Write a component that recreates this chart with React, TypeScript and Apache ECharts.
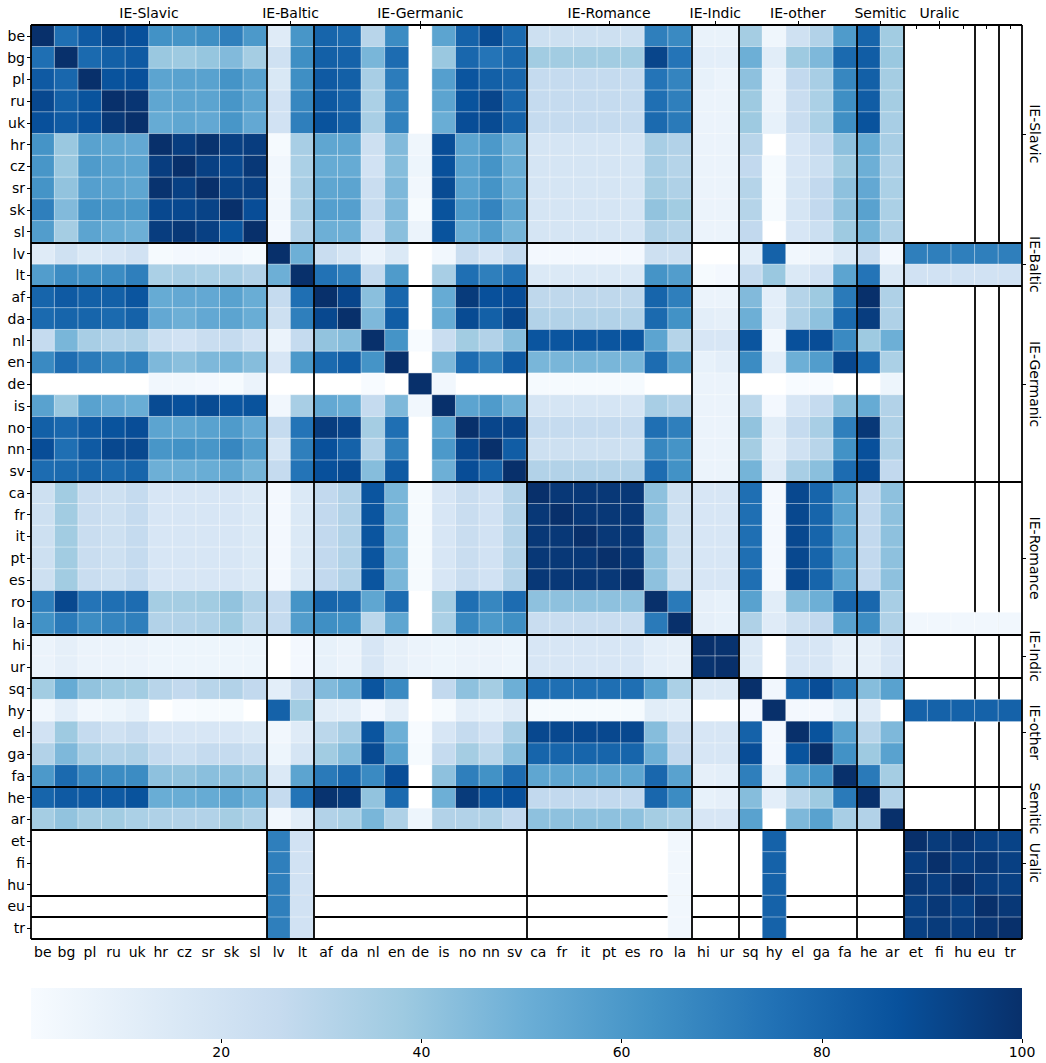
import React, { useEffect, useRef } from 'react';
import * as echarts from 'echarts';

const _ = null;

const languages = ['be','bg','pl','ru','uk','hr','cz','sr','sk','sl','lv','lt','af','da','nl','en','de','is','no','nn','sv','ca','fr','it','pt','es','ro','la','hi','ur','sq','hy','el','ga','fa','he','ar','et','fi','hu','eu','tr'];

// group names ('' = unlabeled single-language group) and their sizes
const groupNames = ['IE-Slavic','IE-Baltic','IE-Germanic','IE-Romance','IE-Indic','IE-other','Semitic','Uralic','',''];
const groupSizes = [10,2,9,7,2,5,2,3,1,1];
// boundaries drawn beneath the cells (after Uralic, after eu)
const hiddenBoundaryGroups = [7, 8];

// rows (one per language), columns in the same order as `languages`
const row_be = [100,76,84,91,88,63,62,64,70,60, 13,61, 80,78,30,65,_,55,81,90,78, 22,22,22,22,22,70,66, 8,8, 36,5,21,32,59, 80,37, _,_,_,_,_];
const row_bg = [76,100,78,82,84,39,38,40,45,36, 21,64, 82,81,47,77,_,39,79,74,78, 37,37,37,37,37,92,74, 11,11, 50,12,38,46,78, 83,39, _,_,_,_,_];
const row_pl = [84,79,100,87,88,55,56,56,62,56, 16,64, 84,82,35,71,_,57,86,82,79, 26,26,26,26,26,74,68, 9,7, 42,7,27,35,67, 82,36, _,_,_,_,_];
const row_ru = [91,82,87,100,98,54,55,55,61,55, 20,67, 85,81,34,68,_,55,87,92,79, 26,26,26,26,26,76,70, 7,7, 38,7,24,34,64, 83,36, _,_,_,_,_];
const row_uk = [88,84,88,97,100,52,54,53,61,53, 20,70, 87,82,35,69,_,51,89,90,81, 26,26,26,26,26,78,72, 7,7, 38,9,24,34,64, 87,35, _,_,_,_,_];
const row_hr = [62,39,56,54,53,100,95,99,94,95, 2,35, 54,54,22,45,5,89,55,60,50, 18,18,18,18,18,35,32, 7,7, 30,_,17,26,42, 52,35, _,_,_,_,_];
const row_cz = [61,39,59,56,55,95,100,94,91,97, 4,34, 52,52,20,44,6,88,56,62,51, 18,18,18,18,18,35,31, 7,7, 27,2,17,23,38, 50,33, _,_,_,_,_];
const row_sr = [62,41,57,56,54,99,94,100,93,94, 4,35, 54,55,24,46,4,90,56,62,52, 18,18,18,18,18,36,33, 7,7, 31,2,18,27,42, 53,34, _,_,_,_,_];
const row_sk = [70,45,63,61,61,91,91,93,100,89, 4,35, 57,57,26,46,2,87,60,68,55, 18,18,18,18,18,41,37, 7,7, 31,2,18,27,42, 56,34, _,_,_,_,_];
const row_sl = [58,36,55,52,50,95,97,94,87,100, 3,32, 50,50,20,43,7,87,51,58,48, 18,18,18,18,18,33,31, 7,7, 27,_,17,23,38, 48,33, _,_,_,_,_];
const row_lv = [13,21,15,17,20,2,3,3,4,2, 100,50, 24,18,7,15,_,4,24,17,26, 3,3,3,3,3,22,22, _,_, 11,81,4,7,15, 24,3, 70,70,70,70,70];
const row_lt = [58,65,64,65,70,34,35,34,35,32, 50,100, 75,70,26,59,_,35,76,70,75, 15,15,15,15,15,62,58, 2,3, 26,39,15,20,55, 74,15, 20,20,20,20,20];
const row_af = [80,84,82,82,86,52,53,53,56,51, 26,76, 100,92,43,79,_,52,96,88,89, 28,28,28,28,28,80,70, 7,7, 45,11,31,38,72, 100,33, _,_,_,_,_];
const row_da = [78,80,80,78,81,53,50,53,55,51, 22,70, 91,100,46,83,_,52,90,82,91, 32,32,32,32,32,78,63, 11,10, 50,12,33,42,78, 95,33, _,_,_,_,_];
const row_nl = [26,47,35,32,33,23,20,24,26,20, 7,26, 41,44,100,62,1,24,37,32,44, 86,86,86,86,86,55,31, 17,17, 86,4,88,89,66, 38,50, _,_,_,_,_];
const row_en = [66,77,72,67,69,46,43,46,48,44, 17,60, 78,83,62,100,_,46,77,69,84, 47,47,47,47,47,77,56, 9,11, 65,11,50,58,91, 78,34, _,_,_,_,_];
const row_de = [_,_,_,_,_,4,4,3,2,7, _,_, _,_,1,_,100,4,_,_,_, 2,2,2,2,2,_,_, 7,7, _,_,1,1,_, _,6, _,_,_,_,_];
const row_is = [56,39,56,53,51,90,88,90,86,87, 4,35, 53,51,26,46,4,100,55,59,50, 18,18,18,18,18,35,32, 7,7, 29,3,17,26,43, 52,32, _,_,_,_,_];
const row_no = [82,79,84,87,89,55,54,56,59,53, 26,74, 95,92,36,76,_,55,100,92,92, 26,26,26,26,26,76,70, 7,7, 41,12,26,35,70, 97,33, _,_,_,_,_];
const row_nn = [89,76,84,91,91,61,63,61,67,59, 18,70, 88,81,32,70,_,60,91,100,83, 22,22,22,22,22,67,62, 7,7, 36,10,21,30,63, 88,33, _,_,_,_,_];
const row_sv = [77,78,80,78,80,50,50,51,54,48, 26,74, 88,90,44,84,_,50,89,81,100, 32,32,32,32,32,77,63, 7,7, 48,13,35,43,77, 90,27, _,_,_,_,_];
const row_ca = [22,37,24,22,26,17,17,17,17,15, 3,15, 27,32,86,47,2,17,24,20,32, 100,97,97,97,97,42,22, 17,17, 76,3,91,80,55, 27,42, _,_,_,_,_];
const row_fr = [22,37,24,22,26,17,17,17,17,15, 3,15, 27,32,86,47,2,17,24,20,32, 97,100,97,97,97,42,22, 17,17, 76,3,91,80,55, 27,42, _,_,_,_,_];
const row_it = [22,37,24,22,26,17,17,17,17,15, 3,15, 27,32,86,47,2,17,24,20,32, 97,97,100,97,97,42,22, 17,17, 76,3,91,80,55, 27,42, _,_,_,_,_];
const row_pt = [22,37,24,22,26,17,17,17,17,15, 3,15, 27,32,86,47,2,17,24,20,32, 97,97,97,100,97,42,22, 17,17, 76,3,91,80,55, 27,42, _,_,_,_,_];
const row_es = [22,37,24,22,26,17,17,17,17,15, 3,15, 27,32,86,47,2,17,24,20,32, 97,97,97,97,100,42,22, 17,17, 76,3,91,80,55, 27,42, _,_,_,_,_];
const row_ro = [70,91,74,76,77,36,36,37,41,33, 26,62, 80,78,54,77,_,36,76,67,77, 42,42,42,42,42,100,72, 10,9, 56,12,44,50,79, 79,35, _,_,_,_,_];
const row_la = [63,72,65,68,70,32,32,33,38,29, 26,58, 64,63,29,54,_,34,67,60,64, 24,24,24,24,24,72,100, 10,9, 33,13,22,27,56, 65,33, 4,4,4,4,4];
const row_hi = [7,10,7,7,7,6,6,6,6,6, _,3, 9,7,17,10,7,6,7,7,6, 17,17,17,17,17,11,10, 100,99, 15,_,17,17,10, 10,17, _,_,_,_,_];
const row_ur = [7,10,7,7,7,6,6,6,6,6, _,3, 9,7,17,10,7,6,7,7,6, 17,17,17,17,17,11,10, 99,100, 15,_,17,17,10, 10,17, _,_,_,_,_];
const row_sq = [37,52,41,38,37,30,27,30,32,27, 11,26, 45,50,86,66,_,27,42,36,50, 76,76,76,76,76,56,34, 15,15, 100,4,81,89,72, 44,56, _,_,_,_,_];
const row_hy = [4,11,4,6,9,_,1,2,2,_, 81,37, 12,11,3,10,_,2,11,9,13, 2,2,2,2,2,12,11, _,_, 3,100,3,3,9, 13,_, 81,81,81,81,81];
const row_el = [20,38,26,21,24,17,17,17,17,15, 4,13, 29,35,86,50,1,17,26,20,35, 91,91,91,91,91,44,24, 17,17, 81,3,100,87,56, 30,46, _,_,_,_,_];
const row_ga = [32,46,35,32,33,26,23,26,26,23, 6,18, 37,44,90,56,2,26,36,29,43, 80,80,80,80,80,50,27, 17,17, 89,3,87,100,63, 38,56, _,_,_,_,_];
const row_fa = [60,78,67,65,65,42,41,43,43,41, 15,55, 72,78,66,89,_,42,70,63,77, 54,54,54,54,54,79,56, 10,11, 70,9,56,63,100, 72,36, _,_,_,_,_];
const row_he = [80,84,84,84,87,51,51,52,55,50, 26,74, 99,96,41,78,_,50,96,86,88, 27,27,27,27,27,79,65, 9,10, 44,11,29,38,72, 100,32, _,_,_,_,_];
const row_ar = [36,41,36,37,34,33,32,32,36,33, 4,12, 32,34,47,33,6,32,32,33,27, 42,42,42,42,42,36,34, 17,17, 56,_,46,56,35, 32,100, _,_,_,_,_];
const row_et = [_,_,_,_,_,_,_,_,_,_, 70,20, _,_,_,_,_,_,_,_,_, _,_,_,_,_,_,4, _,_, _,81,_,_,_, _,_, 100,96,98,94,93];
const row_fi = [_,_,_,_,_,_,_,_,_,_, 70,20, _,_,_,_,_,_,_,_,_, _,_,_,_,_,_,4, _,_, _,81,_,_,_, _,_, 95,100,95,97,94];
const row_hu = [_,_,_,_,_,_,_,_,_,_, 70,20, _,_,_,_,_,_,_,_,_, _,_,_,_,_,_,4, _,_, _,81,_,_,_, _,_, 97,95,100,95,94];
const row_eu = [_,_,_,_,_,_,_,_,_,_, 70,20, _,_,_,_,_,_,_,_,_, _,_,_,_,_,_,4, _,_, _,81,_,_,_, _,_, 94,97,94,100,97];
const row_tr = [_,_,_,_,_,_,_,_,_,_, 70,20, _,_,_,_,_,_,_,_,_, _,_,_,_,_,_,4, _,_, _,81,_,_,_, _,_, 94,96,95,98,100];

const rows = [row_be,row_bg,row_pl,row_ru,row_uk,row_hr,row_cz,row_sr,row_sk,row_sl,row_lv,row_lt,row_af,row_da,row_nl,row_en,row_de,row_is,row_no,row_nn,row_sv,row_ca,row_fr,row_it,row_pt,row_es,row_ro,row_la,row_hi,row_ur,row_sq,row_hy,row_el,row_ga,row_fa,row_he,row_ar,row_et,row_fi,row_hu,row_eu,row_tr];

const colorTicks = [20, 40, 60, 80, 100];
const blues = ['#f7fbff','#deebf7','#c6dbef','#9ecae1','#6baed6','#4292c6','#2171b5','#08519c','#08306b'];

const FONT = 'DejaVu Sans';

export default function App() {
  const ref = useRef<HTMLDivElement>(null);
  useEffect(() => {
    if (!ref.current) return;
    const chart = echarts.init(ref.current, null, { renderer: 'svg' });
    const n = languages.length;

    const data: any[] = [];
    rows.forEach((r, y) => r.forEach((v, x) => { if (v !== null) data.push([x, y, v]); }));

    // group boundaries and centres
    const starts: number[] = [];
    let acc = 0;
    groupSizes.forEach((s) => { starts.push(acc); acc += s; });
    const centers: number[] = [];
    const centerNames: Record<string, string> = {};
    groupNames.forEach((g, i) => {
      if (g) { const c = starts[i] + groupSizes[i] / 2; centers.push(c); centerNames[String(c)] = g; }
    });
    const mainBounds: number[] = [0, n];
    const subBounds: number[] = [];
    groupSizes.forEach((s, i) => {
      const b = starts[i] + s;
      if (b >= n) return;
      if (hiddenBoundaryGroups.includes(i)) subBounds.push(b); else mainBounds.push(b);
    });
    const toLines = (bs: number[]) => {
      const out: any[] = [];
      bs.forEach((b) => {
        out.push({ coords: [[b, 0], [b, n]] });
        out.push({ coords: [[0, b], [n, b]] });
      });
      return out;
    };
    const nameOf = (v: number) => {
      let best = '';
      let d = 1e9;
      centers.forEach((c) => { if (Math.abs(c - v) < d) { d = Math.abs(c - v); best = centerNames[String(c)]; } });
      return best;
    };

    const gl = 31, gt = 25, gw = 991, gh = 914;
    const cbTop = 988, cbH = 51;
    const labelStyle = { color: '#000', fontSize: 14, fontFamily: FONT };

    chart.setOption({
      animation: false,
      textStyle: { fontFamily: FONT },
      grid: [
        { left: gl, top: gt, width: gw, height: gh },
        { left: gl, top: cbTop, width: gw, height: cbH },
      ],
      xAxis: [
        {
          type: 'category', data: languages, gridIndex: 0, position: 'bottom',
          axisLine: { show: false },
          axisTick: { show: true, alignWithLabel: true, length: 4, lineStyle: { color: '#000', width: 1 } },
          axisLabel: { ...labelStyle, interval: 0, margin: 6 },
          splitLine: { show: false },
        },
        { type: 'value', gridIndex: 0, min: 0, max: n, show: false },
        {
          type: 'value', gridIndex: 0, min: 0, max: n, position: 'top',
          axisLine: { show: false },
          axisTick: { show: true, length: 4, customValues: centers, lineStyle: { color: '#000' } },
          axisLabel: { ...labelStyle, customValues: centers, formatter: (v: number) => nameOf(v), margin: 5 },
          splitLine: { show: false },
        },
        {
          type: 'value', gridIndex: 1, min: 1, max: 100, position: 'bottom',
          axisLine: { show: false },
          axisTick: { show: true, length: 4, customValues: colorTicks, lineStyle: { color: '#000' } },
          axisLabel: { ...labelStyle, customValues: colorTicks, margin: 6 },
          splitLine: { show: false },
        },
      ],
      yAxis: [
        {
          type: 'category', data: languages, gridIndex: 0, inverse: true, position: 'left',
          axisLine: { show: false },
          axisTick: { show: true, alignWithLabel: true, length: 4, lineStyle: { color: '#000' } },
          axisLabel: { ...labelStyle, interval: 0, margin: 6 },
          splitLine: { show: false },
        },
        { type: 'value', gridIndex: 0, min: 0, max: n, inverse: true, show: false },
        {
          type: 'value', gridIndex: 0, min: 0, max: n, inverse: true, position: 'right',
          axisLine: { show: false },
          axisTick: { show: true, length: 4, customValues: centers, lineStyle: { color: '#000' } },
          axisLabel: { ...labelStyle, customValues: centers, formatter: (v: number) => nameOf(v), rotate: -90, margin: 6 },
          splitLine: { show: false },
        },
        { type: 'value', gridIndex: 1, show: false },
      ],
      visualMap: {
        type: 'continuous', show: false, min: 1, max: 100, seriesIndex: 0,
        inRange: { color: blues },
      },
      graphic: [
        {
          type: 'rect', left: gl, top: cbTop, silent: true,
          shape: { width: gw, height: cbH },
          style: {
            fill: new echarts.graphic.LinearGradient(0, 0, 1, 0,
              blues.map((c, i) => ({ offset: i / (blues.length - 1), color: c }))),
          },
        },
      ],
      series: [
        {
          type: 'heatmap', xAxisIndex: 0, yAxisIndex: 0, data, z: 2,
          itemStyle: { borderColor: 'rgba(255,255,255,0.85)', borderWidth: 0.5 },
          emphasis: { disabled: true },
          silent: true,
        },
        {
          type: 'lines', coordinateSystem: 'cartesian2d', xAxisIndex: 1, yAxisIndex: 1,
          data: toLines(subBounds), z: 1, clip: false, silent: true,
          lineStyle: { color: '#000', width: 1.8, opacity: 1 },
        },
        {
          type: 'lines', coordinateSystem: 'cartesian2d', xAxisIndex: 1, yAxisIndex: 1,
          data: toLines(mainBounds), z: 3, clip: false, silent: true,
          lineStyle: { color: '#000', width: 1.8, opacity: 1 },
        },
      ],
    });
    return () => chart.dispose();
  }, []);
  return <div ref={ref} style={{ position: 'absolute', left: 0, top: 0, width: 1046, height: 1063 }} />;
}
